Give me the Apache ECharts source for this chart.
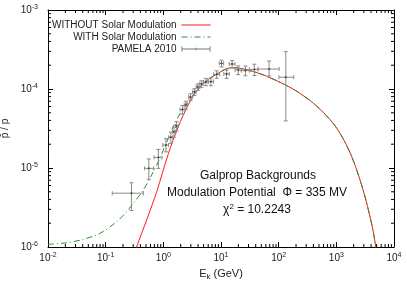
<!DOCTYPE html>
<html><head><meta charset="utf-8">
<script src="https://cdn.jsdelivr.net/npm/echarts@6/dist/echarts.min.js"></script>
<style>html,body{margin:0;padding:0;background:#fff}#c{width:407px;height:285px}</style>
</head><body><div id="c"></div>
<script>
const FONT = '"Liberation Sans", Arial, sans-serif';

// Curve WITHOUT solar modulation (E in GeV, ratio)
const redE = [0.33, 0.344, 0.514, 0.766, 1.22, 1.81, 2.70, 4.03, 6.0, 8.93, 11.7, 15.3, 21, 30, 45, 62, 133, 233, 454, 881, 1350, 1955, 2913, 4074, 4840, 4950];
const redV = [8.5e-7, 1.0e-6, 2.2e-6, 5.0e-6, 1.51e-5, 3.31e-5, 6.3e-5, 1.0e-4, 1.32e-4, 1.58e-4, 1.77e-4, 1.86e-4, 1.83e-4, 1.73e-4, 1.585e-4, 1.45e-4, 1.12e-4, 8.83e-5, 6.1e-5, 3.68e-5, 2.26e-5, 1.26e-5, 5.27e-6, 2.0e-6, 9.9e-7, 7e-7];
// Curve WITH solar modulation
const greenE = [0.01, 0.021, 0.041, 0.0796, 0.155, 0.231, 0.301, 0.449, 0.627, 0.873, 1.07, 1.59, 2.37, 3.53, 5.0, 6.0, 8.93, 11.7, 15.3, 21, 30, 45, 62, 133, 233, 454, 881, 1350, 1955, 2913, 4074, 4840, 4950];
const greenV = [1.08e-6, 1.13e-6, 1.25e-6, 1.49e-6, 2.09e-6, 2.80e-6, 3.57e-6, 5.27e-6, 8.15e-6, 1.33e-5, 1.9e-5, 3.7e-5, 6.2e-5, 9.0e-5, 1.17e-4, 1.32e-4, 1.58e-4, 1.77e-4, 1.86e-4, 1.83e-4, 1.73e-4, 1.585e-4, 1.45e-4, 1.12e-4, 8.83e-5, 6.1e-5, 3.68e-5, 2.26e-5, 1.26e-5, 5.27e-6, 2.0e-6, 9.9e-7, 7e-7];

// PAMELA 2010 data
const pamE   = [0.28, 0.56, 0.82, 1.11, 1.35, 1.53, 1.70, 2.14, 2.46, 2.95, 3.46, 3.95, 4.57, 5.47, 6.68, 8.4, 10.2, 12.5, 15.6, 19.9, 26.5, 37.9, 68.2, 133];
const pamElo = [0.13, 0.47, 0.69, 0.98, 1.24, 1.45, 1.63, 1.95, 2.3, 2.75, 3.2, 3.7, 4.2, 5.0, 6.0, 7.4, 9.3, 11.2, 13.9, 17.5, 22.5, 31, 44, 101];
const pamEhi = [0.45, 0.68, 0.95, 1.23, 1.45, 1.63, 1.83, 2.3, 2.65, 3.2, 3.7, 4.3, 4.9, 6.0, 7.4, 9.5, 11.1, 13.9, 17.5, 22.5, 31, 44, 102, 183];
const pamV   = [4.8e-6, 9.9e-6, 1.36e-5, 1.95e-5, 2.45e-5, 2.88e-5, 3.4e-5, 5.5e-5, 6.27e-5, 7.9e-5, 9.2e-5, 1.06e-4, 1.16e-4, 1.23e-4, 1.24e-4, 1.53e-4, 2.11e-4, 1.55e-4, 2.07e-4, 1.74e-4, 1.71e-4, 1.77e-4, 1.79e-4, 1.41e-4];
const pamVlo = [2.9e-6, 7.2e-6, 9.9e-6, 1.6e-5, 2.05e-5, 2.45e-5, 2.95e-5, 4.8e-5, 5.55e-5, 7.1e-5, 8.3e-5, 9.6e-5, 1.05e-4, 1.1e-4, 1.1e-4, 1.36e-4, 1.9e-4, 1.36e-4, 1.85e-4, 1.52e-4, 1.47e-4, 1.48e-4, 1.46e-4, 3.94e-5];
const pamVhi = [6.5e-6, 1.3e-5, 1.72e-5, 2.35e-5, 2.85e-5, 3.3e-5, 3.85e-5, 6.2e-5, 7.0e-5, 8.7e-5, 1.01e-4, 1.16e-4, 1.27e-4, 1.36e-4, 1.38e-4, 1.7e-4, 2.32e-4, 1.74e-4, 2.29e-4, 1.96e-4, 1.95e-4, 2.06e-4, 2.26e-4, 2.97e-4];

// axis ranges and tick labels
const xMin = 1e-2, xMax = 1e4, yMin = 1e-6, yMax = 1e-3;
const xTickExp = ['-2', '-1', '0', '1', '2', '3', '4'];
const yTickExp = ['-6', '-5', '-4', '-3'];
const minorMult = [2, 3, 4, 5, 6, 7, 8, 9];
const xDecades = [-2, -1, 0, 1, 2, 3];
const yDecades = [-6, -5, -4];

const xMinor = [];
xDecades.forEach(d => minorMult.forEach(m => xMinor.push([m * Math.pow(10, d), yMin])));
const yMinor = [];
yDecades.forEach(d => minorMult.forEach(m => yMinor.push([xMin, m * Math.pow(10, d)])));

const expOf = v => Math.round(Math.log10(v));
const richLbl = {
  b: { fontSize: 10, fontFamily: FONT, color: '#222', lineHeight: 13 },
  e: { fontSize: 7, fontFamily: FONT, color: '#222', verticalAlign: 'top', lineHeight: 8 }
};
const fmtX = v => { const e = expOf(v); const i = e + 2; return '{b|10}{e|' + (xTickExp[i] !== undefined ? xTickExp[i] : e) + '}'; };
const fmtY = v => { const e = expOf(v); const i = e + 6; return '{b|10}{e|' + (yTickExp[i] !== undefined ? yTickExp[i] : e) + '}'; };

const axLine = { show: true, onZero: false, lineStyle: { color: '#000', width: 1 } };
const tick = { show: true, inside: true, length: 5, lineStyle: { color: '#000', width: 1 } };
const noSym = { color: 'rgba(0,0,0,0)', borderWidth: 0, opacity: 0 };

const chart = echarts.init(document.getElementById('c'), null, { renderer: 'canvas' });
chart.setOption({
  animation: false,
  backgroundColor: '#fff',
  grid: { left: 48, right: 13, top: 10, bottom: 38, containLabel: false, outerBoundsMode: 'none' },
  legend: {
    orient: 'vertical', align: 'right', right: 196, top: 20, padding: 0,
    itemWidth: 29, itemHeight: 9, itemGap: 2,
    lineStyle: { width: 1 },
    textStyle: { fontSize: 10, fontFamily: FONT, color: '#222' },
    data: [
      { name: 'WITHOUT Solar Modulation', itemStyle: noSym },
      { name: 'WITH Solar Modulation', itemStyle: noSym },
      { name: 'PAMELA 2010', icon: 'path://M0,4.5H32V5.5H0Z M0,2H1V8H0Z M31,2H32V8H31Z M15.5,3.5H16.5V6.5H15.5Z', itemStyle: { color: '#777' } }
    ]
  },
  xAxis: [
    { type: 'log', logBase: 10, min: xMin, max: xMax, splitNumber: 6, position: 'bottom',
      axisLine: axLine, axisTick: tick, splitLine: { show: false },
      axisLabel: { formatter: fmtX, rich: richLbl, margin: 5, showMinLabel: true, showMaxLabel: true },
      name: '{b|E}{s|k}{b| (GeV)}', nameLocation: 'middle', nameGap: 15,
      nameTextStyle: { rich: {
        b: { fontSize: 11, fontFamily: FONT, color: '#222', lineHeight: 14 },
        s: { fontSize: 8, fontFamily: FONT, color: '#222', verticalAlign: 'bottom', lineHeight: 10 } } } },
    { type: 'log', logBase: 10, min: xMin, max: xMax, splitNumber: 6, position: 'top',
      axisLine: axLine, axisTick: tick, splitLine: { show: false }, axisLabel: { show: false } }
  ],
  yAxis: [
    { type: 'log', logBase: 10, min: yMin, max: yMax, splitNumber: 3, position: 'left',
      axisLine: axLine, axisTick: tick, splitLine: { show: false },
      axisLabel: { formatter: fmtY, rich: richLbl, margin: 10, showMinLabel: true, showMaxLabel: true },
      name: 'p\u0304 / p', nameLocation: 'middle', nameGap: 28, nameRotate: 90,
      nameTextStyle: { fontSize: 10, fontFamily: FONT, color: '#222' } },
    { type: 'log', logBase: 10, min: yMin, max: yMax, splitNumber: 3, position: 'right',
      axisLine: axLine, axisTick: tick, splitLine: { show: false }, axisLabel: { show: false } }
  ],
  series: [
    { name: 'WITHOUT Solar Modulation', type: 'line', xAxisIndex: 0, yAxisIndex: 0,
      data: redE.map((e, i) => [e, redV[i]]), symbol: 'none', smooth: 0.3, clip: true,
      lineStyle: { color: '#ff1a1a', width: 1 }, itemStyle: { color: '#ff1a1a' }, z: 3 },
    { name: 'WITH Solar Modulation', type: 'line', xAxisIndex: 0, yAxisIndex: 0,
      data: greenE.map((e, i) => [e, greenV[i]]), symbol: 'none', smooth: 0.3, clip: true,
      lineStyle: { color: '#2a8f2a', width: 1, type: [6, 3, 1, 3] }, itemStyle: { color: '#2a8f2a' }, z: 4 },
    { name: 'PAMELA 2010', type: 'custom', xAxisIndex: 0, yAxisIndex: 0, z: 5,
      itemStyle: { color: '#777' },
      data: pamE.map((e, i) => [e, pamV[i], pamElo[i], pamEhi[i], pamVlo[i], pamVhi[i]]),
      encode: { x: 0, y: 1 },
      renderItem: function (params, api) {
        const x = api.value(0), y = api.value(1);
        const c = api.coord([x, y]);
        const l = api.coord([api.value(2), y]);
        const r = api.coord([api.value(3), y]);
        const lo = api.coord([x, api.value(4)]);
        const hi = api.coord([x, api.value(5)]);
        const cap = 2;
        const st = { stroke: '#8a8a8a', lineWidth: 1 };
        const ln = (x1, y1, x2, y2, s) => ({ type: 'line', shape: { x1, y1, x2, y2 }, style: s || st });
        const dk = { stroke: '#444', lineWidth: 1 };
        return { type: 'group', children: [
          ln(l[0], c[1], r[0], c[1]),
          ln(c[0], lo[1], c[0], hi[1]),
          ln(l[0], c[1] - cap, l[0], c[1] + cap),
          ln(r[0], c[1] - cap, r[0], c[1] + cap),
          ln(c[0] - cap, lo[1], c[0] + cap, lo[1]),
          ln(c[0] - cap, hi[1], c[0] + cap, hi[1]),
          ln(c[0] - 1, c[1], c[0] + 1, c[1], dk),
          ln(c[0], c[1] - 1, c[0], c[1] + 1, dk)
        ] };
      } },
    { type: 'custom', xAxisIndex: 0, yAxisIndex: 0, silent: true, clip: false, z: 6,
      data: xMinor, encode: { x: 0, y: 1 },
      renderItem: function (params, api) {
        const b = api.coord([api.value(0), yMin]);
        const t = api.coord([api.value(0), yMax]);
        const s = { stroke: '#000', lineWidth: 1 };
        return { type: 'group', children: [
          { type: 'line', shape: { x1: b[0], y1: b[1], x2: b[0], y2: b[1] - 3 }, style: s },
          { type: 'line', shape: { x1: t[0], y1: t[1], x2: t[0], y2: t[1] + 3 }, style: s }
        ] };
      } },
    { type: 'custom', xAxisIndex: 0, yAxisIndex: 0, silent: true, clip: false, z: 6,
      data: yMinor, encode: { x: 0, y: 1 },
      renderItem: function (params, api) {
        const l = api.coord([xMin, api.value(1)]);
        const r = api.coord([xMax, api.value(1)]);
        const s = { stroke: '#000', lineWidth: 1 };
        return { type: 'group', children: [
          { type: 'line', shape: { x1: l[0], y1: l[1], x2: l[0] + 3, y2: l[1] }, style: s },
          { type: 'line', shape: { x1: r[0], y1: r[1], x2: r[0] - 3, y2: r[1] }, style: s }
        ] };
      } }
  ],
  graphic: [
    { type: 'text', x: 258, y: 176, style: { text: 'Galprop Backgrounds', font: '12px ' + FONT, fill: '#111', align: 'center', verticalAlign: 'middle' } },
    { type: 'text', x: 257, y: 193, style: { text: 'Modulation Potential  \u03A6 = 335 MV', font: '12px ' + FONT, fill: '#111', align: 'center', verticalAlign: 'middle' } },
    { type: 'text', x: 257, y: 210, style: { text: '{b|\u03C7}{s|2}{b| = 10.2243}', align: 'center', verticalAlign: 'middle',
      rich: { b: { fontSize: 12, fontFamily: FONT, fill: '#111', lineHeight: 15 }, s: { fontSize: 8, fontFamily: FONT, fill: '#111', verticalAlign: 'top', lineHeight: 8 } } } }
  ]
});
</script></body></html>
